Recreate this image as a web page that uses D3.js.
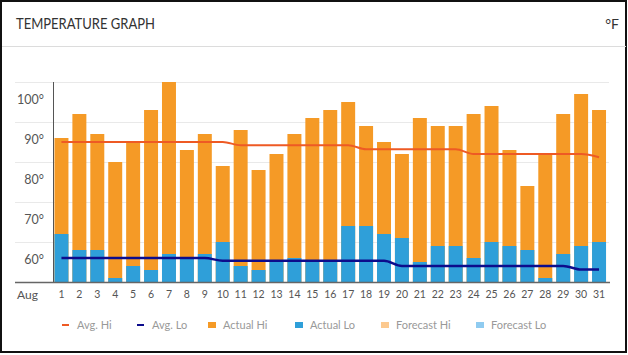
<!DOCTYPE html>
<html>
<head>
<meta charset="utf-8">
<script src="https://cdn.jsdelivr.net/npm/d3@7"></script>
<style>
  html, body { margin: 0; padding: 0; background: #fff; }
  svg { display: block; font-family: Lato, "Open Sans", sans-serif; }
</style>
</head>
<body>
<svg id="chart" width="628" height="355"></svg>
<script>
// ---- data ----
const days = ["1","2","3","4","5","6","7","8","9","10","11","12","13","14","15","16","17","18","19","20","21","22","23","24","25","26","27","28","29","30","31"];
const actualHi = [86,92,87,80,85,93,100,83,87,79,88,78,82,87,91,93,95,89,85,82,91,89,89,92,94,83,74,82,92,97,93];
const actualLo = [62,58,58,51,54,53,57,56,57,60,54,53,55,56,55,55,64,64,62,61,55,59,59,56,60,59,58,51,57,59,60];
const avgHi = [85,85,85,85,85,85,85,85,85,85,84.2,84.2,84.2,84.2,84.2,84.2,84.2,83.2,83.2,83.2,83.2,83.2,83.2,82,82,82,82,82,82,82,81.2];
const avgLo = [56,56,56,56,56,56,56,56,56,55.3,55.3,55.3,55.3,55.3,55.3,55.3,55.3,55.3,55.3,54,54,54,54,54,54,54,54,54,54,53.1,53.1];
const yTicks = [60,70,80,90,100];
const monthLabel = "Aug";
const title = "TEMPERATURE GRAPH";
const unitLabel = "°F";
const legendNames = ["Avg. Hi","Avg. Lo","Actual Hi","Actual Lo","Forecast Hi","Forecast Lo"];

// ---- styles ----
const C = {
  hi: "#f59a26", lo: "#2f9fd9", avgHi: "#ee5a24", avgLo: "#0c0c8c",
  fHi: "#fcc98f", fLo: "#8fcbf0"
};
const legendColors = [C.avgHi, C.avgLo, C.hi, C.lo, C.fHi, C.fLo];
const legendTypes = ["line","line","rect","rect","rect","rect"];
const legendMarkX = [62,137,208,295,381,476];

const svg = d3.select("#chart");

// frame
svg.append("rect").attr("x",1).attr("y",1).attr("width",625).attr("height",351)
  .attr("fill","#fff").attr("stroke","#111").attr("stroke-width",2);
svg.append("line").attr("x1",2).attr("x2",626).attr("y1",46.5).attr("y2",46.5)
  .attr("stroke","#dcdcdc").attr("stroke-width",1);
svg.append("text").attr("x",16).attr("y",29).text(title)
  .attr("font-size",15).attr("fill","#333")
  .attr("textLength",139).attr("lengthAdjust","spacingAndGlyphs");
svg.append("text").attr("x",619).attr("y",29).attr("text-anchor","end").text(unitLabel)
  .attr("font-size",14).attr("fill","#333");

// scales
const x = d3.scaleBand().domain(days).range([52.5,608]).paddingInner(0.22).paddingOuter(0.11);
const y = d3.scaleLinear().domain([50,100]).range([282,82]);
const cx = d => x(d) + x.bandwidth()/2;

// gridlines
svg.append("g").selectAll("line").data(yTicks).join("line")
  .attr("x1",15).attr("x2",609).attr("y1",d=>y(d)+0.5).attr("y2",d=>y(d)+0.5)
  .attr("stroke","#e9e9e9").attr("stroke-width",1);

// y labels
const yAxis = d3.axisLeft(y).tickValues(yTicks).tickSize(0).tickFormat(d=>d+"°");
const gy = svg.append("g").attr("transform","translate(44,17)").call(yAxis);
gy.select(".domain").remove();
gy.selectAll("text").attr("font-size",12.5).attr("fill","#555").attr("font-family","Lato, sans-serif").attr("x",0);

// bars
svg.append("g").selectAll("rect").data(days).join("rect")
  .attr("x",d=>x(d)).attr("width",x.bandwidth())
  .attr("y",(d,i)=>y(actualHi[i])).attr("height",(d,i)=>y(50)-y(actualHi[i]))
  .attr("fill",C.hi);
svg.append("g").selectAll("rect").data(days).join("rect")
  .attr("x",d=>x(d)).attr("width",x.bandwidth())
  .attr("y",(d,i)=>y(actualLo[i])).attr("height",(d,i)=>y(50)-y(actualLo[i]))
  .attr("fill",C.lo);

// axes lines
svg.append("line").attr("x1",53.5).attr("x2",53.5).attr("y1",y(100)).attr("y2",y(50))
  .attr("stroke","#555").attr("stroke-width",1);
svg.append("line").attr("x1",15).attr("x2",610).attr("y1",y(50)+0.5).attr("y2",y(50)+0.5)
  .attr("stroke","#666").attr("stroke-width",1.5);

// avg lines
const line = d3.line().x((v,i)=>cx(days[i])).y(v=>y(v)).curve(d3.curveMonotoneX);
svg.append("path").datum(avgHi).attr("d",line).attr("fill","none")
  .attr("stroke",C.avgHi).attr("stroke-width",2);
svg.append("path").datum(avgLo).attr("d",line).attr("fill","none")
  .attr("stroke",C.avgLo).attr("stroke-width",2.5);

// x labels
const xAxis = d3.axisBottom(x).tickSize(0);
const gx = svg.append("g").attr("transform","translate(0,289)").call(xAxis);
gx.select(".domain").remove();
gx.selectAll("text").attr("font-size",10.5).attr("fill","#555").attr("font-family","Lato, sans-serif").attr("dy","0.32em").attr("y",6);
svg.append("text").attr("x",17).attr("y",299).text(monthLabel)
  .attr("font-size",12).attr("fill","#555");

// legend
const lg = svg.append("g").selectAll("g").data(legendNames).join("g")
  .attr("transform",(d,i)=>`translate(${legendMarkX[i]},325)`);
lg.each(function(d,i){
  const g = d3.select(this);
  if (legendTypes[i]==="line") {
    g.append("rect").attr("x",0).attr("y",-1).attr("width",7).attr("height",2).attr("fill",legendColors[i]);
  } else {
    g.append("rect").attr("x",0).attr("y",-3).attr("width",8).attr("height",6).attr("fill",legendColors[i]);
  }
  g.append("text").attr("x",15).attr("y",4).text(d).attr("font-size",11).attr("fill","#999");
});
</script>
</body>
</html>
